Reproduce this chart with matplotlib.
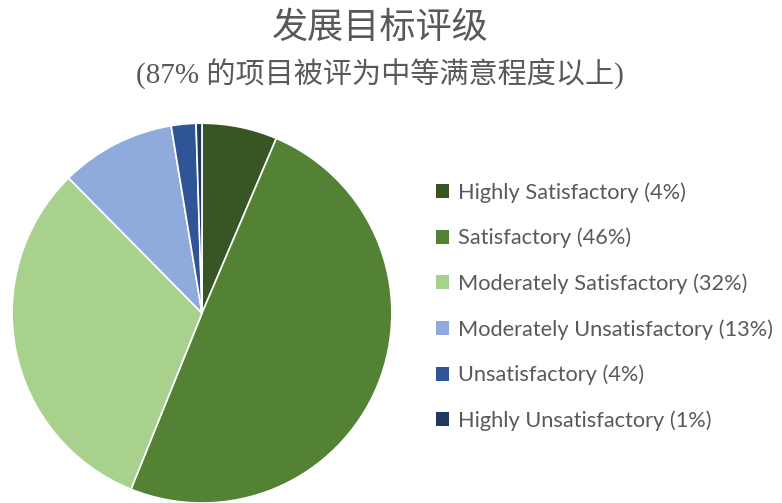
import matplotlib.pyplot as plt
from matplotlib.patches import Patch

categories = ["Highly Satisfactory", "Satisfactory", "Moderately Satisfactory",
              "Moderately Unsatisfactory", "Unsatisfactory", "Highly Unsatisfactory"]
label_pcts = ["4%", "46%", "32%", "13%", "4%", "1%"]
values = [6.4, 49.7, 31.5, 9.8, 2.1, 0.5]
colors = ["#375623", "#548235", "#A9D18E", "#8FAADC", "#2F5597", "#1F3864"]

title = "发展目标评级"
subtitle = "(87% 的项目被评为中等满意程度以上)"

fig = plt.figure(figsize=(7.82, 5.03), dpi=100)
ax = fig.add_axes([0.0153, 0.0, 0.486, 0.755])
ax.pie(values, colors=colors, startangle=90, counterclock=False,
       wedgeprops=dict(edgecolor="white", linewidth=1.2))
ax.set_xlim(-1, 1)
ax.set_ylim(-1, 1)
ax.set_aspect("equal")

cx = 380 / 782
fig.text(cx, 1 - 28 / 503, title, ha="center", va="center", fontsize=26,
         color="#595959", fontweight="light", family=["Noto Sans CJK SC", "DejaVu Sans"])
fig.text(cx, 1 - 73 / 503, subtitle, ha="center", va="center", fontsize=21,
         color="#595959", family=["Liberation Serif", "Noto Sans CJK SC"])

handles = [Patch(facecolor=c, edgecolor="none") for c in colors]
labels = [f"{c} ({p})" for c, p in zip(categories, label_pcts)]
fig.legend(handles, labels, loc="upper left", bbox_to_anchor=(0.557, 1 - 182 / 503),
           frameon=False, prop={"family": "Lato", "size": 15.7}, labelcolor="#595959",
           handlelength=0.6, handleheight=0.6, handletextpad=0.45,
           labelspacing=1.15, borderpad=0, borderaxespad=0)

fig.savefig("out.png", dpi=100)
